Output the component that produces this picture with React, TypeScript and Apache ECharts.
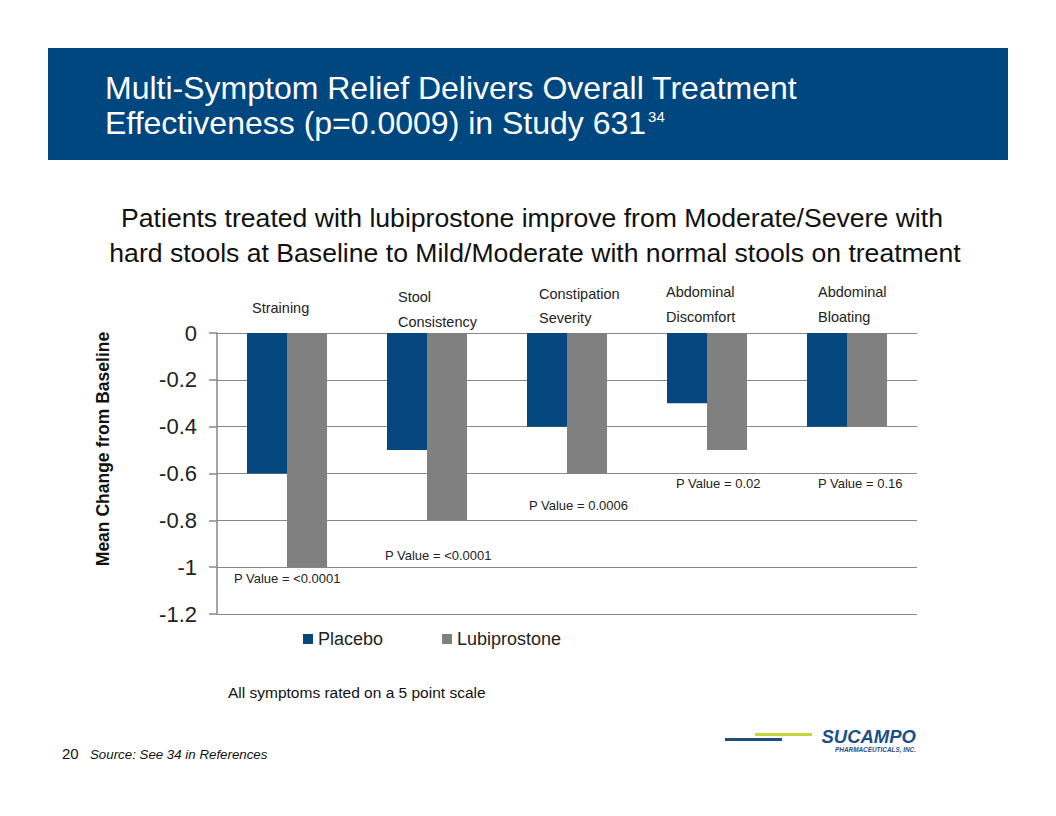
import React, { useEffect, useRef } from "react";
import * as echarts from "echarts";

const categories = ["Straining", "Stool Consistency", "Constipation Severity", "Abdominal Discomfort", "Abdominal Bloating"];
const placebo = [-0.6, -0.5, -0.4, -0.3, -0.4];
const lubiprostone = [-1.0, -0.8, -0.6, -0.5, -0.4];
const pValues = ["P Value = <0.0001", "P Value = <0.0001", "P Value = 0.0006", "P Value = 0.02", "P Value = 0.16"];
const categoryLabelLines = [["Straining"], ["Stool", "Consistency"], ["Constipation", "Severity"], ["Abdominal", "Discomfort"], ["Abdominal", "Bloating"]];

const FONT = "'Liberation Sans', Arial, Helvetica, sans-serif";

export default function App() {
  const ref = useRef<HTMLDivElement>(null);
  useEffect(() => {
    document.body.style.margin = "0";
    const chart = echarts.init(ref.current!, null, { renderer: "svg" });

    const catLabelPos = [
      { x: 252, ys: [308] },
      { x: 398, ys: [297, 322] },
      { x: 539, ys: [294, 318] },
      { x: 666, ys: [292, 317] },
      { x: 818, ys: [292, 317] },
    ];
    const pPos = [
      [234, 578],
      [385, 555],
      [529, 505],
      [676, 483],
      [818, 483],
    ];

    const graphics: any[] = [
      { type: "rect", shape: { x: 48, y: 48, width: 960, height: 112 }, style: { fill: "#00467F" } },
      { type: "text", x: 105, y: 88, style: { text: "Multi-Symptom Relief Delivers Overall Treatment", fill: "#fff", font: `32px ${FONT}`, verticalAlign: "middle" } },
      {
        type: "text",
        x: 105,
        y: 123,
        style: {
          text: "Effectiveness (p=0.0009) in Study 631{sup|34}",
          fill: "#fff",
          font: `32px ${FONT}`,
          verticalAlign: "middle",
          rich: { sup: { fontSize: 15, fill: "#fff", verticalAlign: "top", padding: [2, 0, 0, 2] } },
        },
      },
      { type: "text", x: 532, y: 218, style: { text: "Patients treated with lubiprostone improve from Moderate/Severe with", fill: "#111", font: `26.6px ${FONT}`, align: "center", verticalAlign: "middle" } },
      { type: "text", x: 535, y: 253, style: { text: "hard stools at Baseline to Mild/Moderate with normal stools on treatment", fill: "#111", font: `26.6px ${FONT}`, align: "center", verticalAlign: "middle" } },
      { type: "text", x: 103, y: 449, rotation: Math.PI / 2, style: { text: "Mean Change from Baseline", fill: "#111", font: `bold 17.5px ${FONT}`, align: "center", verticalAlign: "middle" } },
      { type: "text", x: 228, y: 692, style: { text: "All symptoms rated on a 5 point scale", fill: "#111", font: `15.5px ${FONT}`, verticalAlign: "middle" } },
      { type: "text", x: 62, y: 753, style: { text: "20", fill: "#111", font: `15px ${FONT}`, verticalAlign: "middle" } },
      { type: "text", x: 90, y: 754, style: { text: "Source: See 34 in References", fill: "#111", font: `italic 13.3px ${FONT}`, verticalAlign: "middle" } },
      { type: "rect", shape: { x: 725, y: 738, width: 57, height: 3 }, style: { fill: "#1F4E7A" } },
      { type: "rect", shape: { x: 755, y: 733, width: 57, height: 3 }, style: { fill: "#C5D53A" } },
      { type: "text", x: 916, y: 736, style: { text: "SUCAMPO", fill: "#1B4F86", font: `italic bold 18.5px ${FONT}`, align: "right", verticalAlign: "middle" } },
      { type: "text", x: 916, y: 749, style: { text: "PHARMACEUTICALS, INC.", fill: "#1B4F86", font: `italic bold 6.4px ${FONT}`, align: "right", verticalAlign: "middle" } },
    ];
    categoryLabelLines.forEach((lines, i) => {
      lines.forEach((t, j) => {
        graphics.push({ type: "text", x: catLabelPos[i].x, y: catLabelPos[i].ys[j], style: { text: t, fill: "#222", font: `14.5px ${FONT}`, verticalAlign: "middle" } });
      });
    });
    pValues.forEach((t, i) => {
      graphics.push({ type: "text", x: pPos[i][0], y: pPos[i][1], style: { text: t, fill: "#222", font: `13px ${FONT}`, verticalAlign: "middle" } });
    });

    chart.setOption({
      animation: false,
      textStyle: { fontFamily: FONT },
      grid: { left: 217, right: 139, top: 333, bottom: 202 },
      legend: {
        left: 303,
        top: 630,
        padding: 0,
        icon: "rect",
        itemWidth: 10,
        itemHeight: 10,
        itemGap: 59,
        textStyle: { fontSize: 18, color: "#222", fontFamily: FONT },
        data: ["Placebo", "Lubiprostone"],
      },
      xAxis: {
        type: "category",
        data: categories,
        axisLine: { show: false },
        axisTick: { show: false },
        axisLabel: { show: false },
      },
      yAxis: {
        type: "value",
        min: -1.2,
        max: 0,
        interval: 0.2,
        axisLine: { show: true, lineStyle: { color: "#878787", width: 1.5 } },
        axisTick: { show: true, length: 8, lineStyle: { color: "#878787", width: 1.5 } },
        splitLine: { show: true, lineStyle: { color: "#878787", width: 1.2 } },
        axisLabel: {
          margin: 20,
          fontSize: 22,
          color: "#222",
          fontFamily: FONT,
          formatter: (v: number) => String(Math.round(v * 10) / 10),
        },
      },
      series: [
        { name: "Placebo", type: "bar", data: placebo, barWidth: 40, barGap: "0%", itemStyle: { color: "#04487F" } },
        { name: "Lubiprostone", type: "bar", data: lubiprostone, barWidth: 40, barGap: "0%", itemStyle: { color: "#808080" } },
      ],
      graphic: graphics,
    });
    return () => chart.dispose();
  }, []);
  return <div ref={ref} style={{ width: 1056, height: 816 }} />;
}
